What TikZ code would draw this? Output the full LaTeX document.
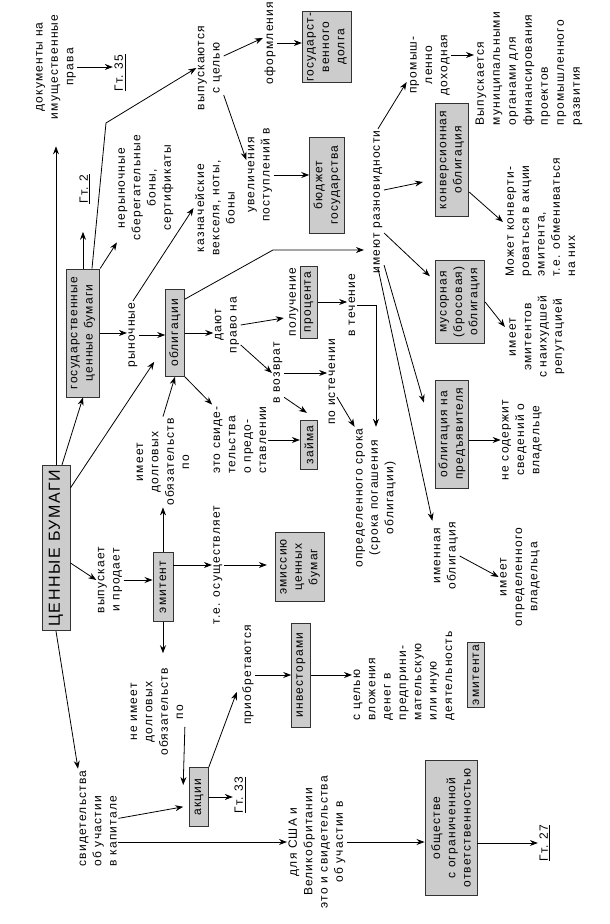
\documentclass[tikz,border=0pt]{standalone}
\usepackage{fontspec}
\setmainfont[LetterSpace=10]{Liberation Sans}
\usetikzlibrary{arrows.meta,calc}
\definecolor{boxgray}{RGB}{204,204,204}
\newcommand\txtfont{\fontsize{9}{11.5}\selectfont}
\newcommand\bigfont{\fontsize{12}{14}\selectfont}
\begin{document}
\begin{tikzpicture}[x=0.75pt,y=0.75pt,
    box/.style={draw=black!80,fill=boxgray,line width=0.7pt,align=center,inner sep=1pt,font=\txtfont},
    txt/.style={align=center,inner sep=1pt,font=\txtfont},
    gt/.style={inner sep=1pt,font=\txtfont},
    arr/.style={-{Stealth[length=6pt,width=4.5pt,inset=2pt]},line width=0.6pt}]
\begin{scope}[rotate=90,transform shape]
\path[use as bounding box,fill=white] (0,0) rectangle (924,610);

\node[box,font=\bigfont,minimum width=124pt,minimum height=21pt] (main) at (376,554) {ЦЕННЫЕ БУМАГИ};
\node[txt] (docs) at (857,554) {документы на\\имущественные\\права};
\node[gt] (gtA) at (851,490) {\underline{Гт. 35}};
\node[box,minimum width=96pt,minimum height=25pt] (gosbum) at (591,527) {государственные\\ценные бумаги};
\node[gt] (gtB) at (735,525) {\underline{Гт. 2}};
\node[txt] (nonm) at (736,464) {нерыночные\\сберегательные\\боны,\\сертификаты};
\node[txt] (rynoch) at (589,477) {рыночные};
\node[txt] (kazn) at (716,395) {казначейские\\векселя, ноты,\\боны};
\node[txt] (vyp) at (856,400) {выпускаются\\с целью};
\node[txt] (oform) at (881,340) {оформления};
\node[box,minimum width=53pt,minimum height=37pt] (dolg) at (877,283) {государст-\\венного\\долга};
\node[txt] (uvel) at (749,350) {увеличения\\поступлений в};
\node[box,minimum width=72pt,minimum height=26pt] (budget) at (739,283) {бюджет\\государства};
\node[box,minimum width=65pt,minimum height=14pt] (obl) at (591,435) {облигации};
\node[txt] (dayut) at (599,383) {дают\\право на};
\node[txt] (raznov) at (722,232) {имеют разновидности};
\node[txt] (prom) at (859,180) {промыш-\\ленно\\доходная};
\node[txt,align=left,anchor=north west,font=\fontsize{9}{12}\selectfont] (munic) at (797,136) {Выпускается\\муниципальными\\органами для\\финансирования\\проектов\\промышленного\\развития};
\node[box,minimum width=85pt,minimum height=25pt] (konv) at (764,158) {конверсионная\\облигация};
\node[txt,align=left,anchor=north west] (mozhet) at (646,106) {Может конверти-\\роваться в акции\\эмитента,\\т.е. обмениваться\\на них};
\node[box,minimum width=62pt,minimum height=37pt] (musor) at (622,150) {мусорная\\(бросовая)\\облигация};
\node[txt] (imeetA) at (587,73) {имеет\\эмитентов\\с наихудшей\\репутацией};
\node[box,minimum width=81pt,minimum height=25pt] (predyav) at (490,158) {облигация на\\предъявителя};
\node[txt] (nesod) at (484,88) {не содержит\\сведений о\\владельце};
\node[txt] (imen) at (368,164) {именная\\облигация};
\node[txt] (imeetB) at (347,90) {имеет\\определенного\\владельца};
\node[box,minimum width=49pt,minimum height=13pt] (emitenta) at (249,134) {эмитента};
\node[txt,align=left,anchor=north west] (celyu) at (202,258) {с целью\\вложения\\денег в\\предприни-\\мательскую\\или иную\\деятельность};
\node[box,minimum width=78pt,minimum height=14pt] (invest) at (249,309) {инвесторами};
\node[txt] (priobr) at (249,362) {приобретаются};
\node[box,minimum width=52pt,minimum height=37pt] (emis) at (357,310) {эмиссию\\ценных\\бумаг};
\node[txt] (osusch) at (359,392) {т.е. осуществляет};
\node[box,minimum width=52pt,minimum height=15pt] (emitent) at (337,447) {эмитент};
\node[txt] (vypusk) at (344,500) {выпускает\\и продает};
\node[txt] (imeetC) at (462,447) {имеет\\долговых\\обязательств\\по};
\node[txt,align=left] (eto) at (484,370) {это свиде-\\тельства\\о предо-\\ставлении};
\node[box,minimum width=37pt,minimum height=13pt] (zaima) at (479,301) {займа};
\node[box,minimum width=54pt,minimum height=13pt] (proc) at (622,301) {процента};
\node[txt,anchor=south] (poluch) at (proc.north) {получение};
\node[txt] (vozvrat) at (551,332) {в возврат};
\node[txt] (techen) at (619,258) {в течение};
\node[txt] (istech) at (542,278) {по истечении};
\node[txt] (opred) at (426,234) {определенного срока\\(срока погашения\\облигации)};
\node[txt] (neimeet) at (212,453) {не имеет\\долговых\\обязательств\\по};
\node[box,minimum width=44pt,minimum height=14pt] (akcii) at (127,411) {акции};
\node[gt] (gtC) at (129,370) {\underline{Гт. 33}};
\node[txt,align=left,anchor=north west] (svid) at (56,532) {свидетельства\\об участии\\в капитале};
\node[txt] (usa) at (82,293) {для США и\\Великобритании\\это и свидетельства\\об участии в};
\node[box,minimum width=101pt,minimum height=39pt] (ooo) at (96,159) {обществе\\с ограниченной\\ответственностью};
\node[gt] (gtD) at (81,65) {\underline{Гт. 27}};

\coordinate (kA) at (801,504);
\coordinate (kB) at (674,337);

\draw[arr,shorten >=19pt] (main.east) -- (docs.west);
\draw[arr] (docs.south) -- (docs.south |- gtA.north);
\draw[arr] ($(main.east)+(0,-6)$) -- (gosbum.west);
\draw[arr,shorten >=20pt] (gosbum.east) -- (gosbum.east -| gtB.west);
\draw[arr] ($(gosbum.east)+(0,-9)$) -- (kA) -- (vyp.north);
\draw[arr] (gosbum.south east) -- (nonm.north west);
\draw[arr] (gosbum.south) -- (gosbum.south |- rynoch.north);
\draw[arr] (rynoch.east) -- (kazn.north);
\draw[arr] (rynoch.south) -- (rynoch.south |- obl.north);
\draw[arr] (obl.south) -- (obl.south |- dayut.north);
\draw[arr,shorten >=6pt] ($(obl.south east)+(-10,0)$) -- (kB) -- (kB |- raznov.north);
\draw[arr] (dayut.south) -- ($(poluch.north)+(-16,4)$);
\draw[arr] ($(dayut.south)+(-20,0)$) -- (vozvrat.north);
\draw[arr] (vozvrat.south) -- (vozvrat.south |- istech.north);
\draw[arr] ($(vozvrat.south west)+(8,0)$) -- ($(zaima.north east)+(7,-7)$);
\draw[arr] (eto.south) -- (eto.south |- zaima.north);
\draw[arr] (obl.south west) -- (eto.north east);
\draw[arr] (imeetC.east) -- (obl.west);
\draw[arr] ($(main.south east)+(-23,0)$) -- ($(obl.north west)+(15,11)$);
\draw[arr] ($(main.south)+(-15,0)$) -- (vypusk.north);
\draw[arr] (vypusk.south) -- (vypusk.south |- emitent.north);
\draw[arr] (emitent.east) -- (imeetC.west);
\draw[arr] (osusch.north |- emitent.south) -- (osusch.north);
\draw[arr,shorten >=6pt] (osusch.south) -- (osusch.south |- emis.north);
\draw[arr,shorten >=10pt] (emitent.west) -- (emitent.west -| neimeet.east);
\draw[arr] ($(neimeet.south)+(-15,0)$) -- ($(akcii.north)+(12,6)$);
\draw[arr] (akcii.south) -- (akcii.south |- gtC.north);
\draw[arr] (akcii.south east) -- ($(priobr.north)+(-17,4)$);
\draw[arr] (invest.north |- priobr.south) -- (invest.north);
\draw[arr] (invest.south) -- (invest.south |- celyu.north);
\draw[arr] (main.west) -- (svid.north east);
\draw[arr] (svid.south) -- ($(akcii.north west)+(20,6)$);
\draw[arr] (usa.north |- svid.south) -- (usa.north);
\draw[arr] (usa.south) -- (usa.south |- ooo.north);
\draw[arr] (gtD.north |- ooo.south) -- (gtD.north);
\draw[arr] ($(vyp.south)+(12,0)$) -- ($(oform.north)+(5,0)$);
\draw[arr] ($(vyp.south)+(-27,0)$) -- ($(uvel.north)+(15,0)$);
\draw[arr] (oform.south) -- (oform.south |- dolg.north);
\draw[arr] (uvel.south) -- (uvel.south |- budget.north);
\draw[arr] (raznov.east) -- ($(prom.north west)+(15,2)$);
\draw[arr] ($(raznov.south)+(12,0)$) -- ($(konv.north)+(-22,12)$);
\draw[arr] ($(raznov.south)+(-31,0)$) -- ($(musor.north east)+(-16,5)$);
\draw[arr] ($(raznov.south west)+(10,0)$) -- ($(predyav.north east)+(-23,11)$);
\draw[arr] ($(raznov.west)+(7,0)$) -- (imen.north east);
\draw[arr] ($(prom.south)+(10,0)$) coordinate (pS) -- (pS |- munic.north);
\draw[arr] ($(konv.south)+(-32,0)$) -- ($(mozhet.north west)+(56,1)$);
\draw[arr] (musor.south) -- ($(imeetA.north)+(10,3)$);
\draw[arr] (nesod.north |- predyav.south) -- (nesod.north);
\draw[arr] (imen.south) -- (imeetB.north);
\draw[arr] (proc.south) -- (proc.south |- techen.north);
\draw[arr] (techen.south) |- (opred.east);
\draw[arr] ($(istech.south)+(-15,0)$) -- (opred.north east);
\end{scope}
\end{tikzpicture}
\end{document}
